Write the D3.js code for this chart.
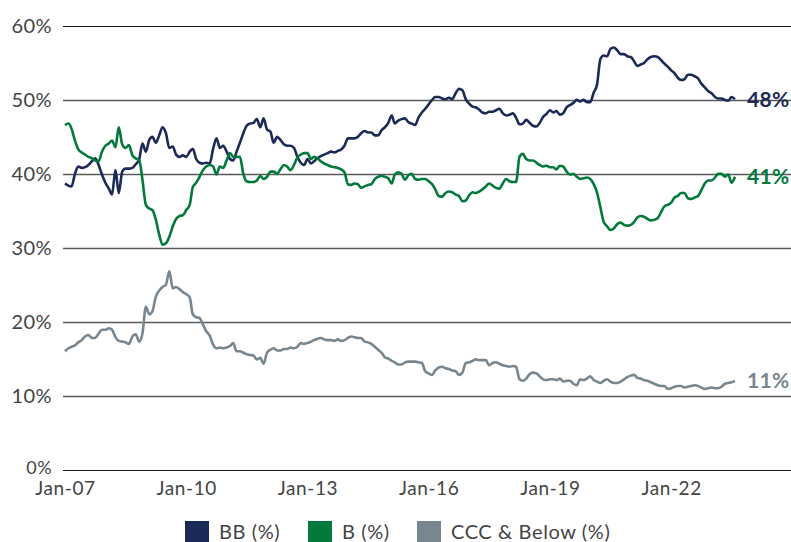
<!DOCTYPE html>
<html>
<head>
<meta charset="utf-8">
<script src="https://cdn.jsdelivr.net/npm/d3@7"></script>
<style>
  body { margin: 0; background: #fff; }
  svg text { font-family: Lato, "Open Sans", sans-serif; }
</style>
</head>
<body>
<div id="app"></div>
<script>
// monthly series, Jan 2007 .. Aug 2023
var startMonth = new Date(2007, 0, 1);

var bb = [
  38.7,38.4,38.3,40.0,41.0,40.8,40.9,41.2,41.7,42.1,
  41.2,39.9,38.8,38.0,37.2,40.5,37.4,40.3,40.7,40.7,
  40.8,41.3,41.9,44.1,43.0,44.6,45.0,44.2,45.2,46.3,
  45.5,43.5,43.7,42.6,42.3,42.5,42.3,43.0,43.4,42.0,
  41.5,41.4,41.5,41.4,43.4,44.8,43.5,43.8,43.0,42.0,
  41.8,43.0,44.2,45.5,46.5,46.8,46.9,47.4,46.3,47.5,
  46.0,45.7,44.2,45.0,44.6,44.0,43.8,43.8,43.5,42.3,
  41.5,41.2,42.0,41.4,41.7,42.1,42.4,42.6,42.8,43.0,
  42.9,43.1,43.3,43.8,44.8,44.8,44.8,45.0,45.5,45.8,
  45.6,45.6,45.2,45.2,45.9,46.3,46.9,47.9,46.8,47.2,
  47.4,47.5,47.0,46.8,46.6,47.6,48.3,48.8,49.4,50.0,
  50.4,50.4,50.2,50.1,50.3,50.1,50.9,51.5,51.3,50.1,
  49.5,49.1,49.0,48.7,48.3,48.2,48.4,48.4,48.6,48.8,
  48.2,47.9,48.0,48.2,47.6,46.7,46.8,47.3,46.9,46.5,
  46.4,46.9,47.7,48.1,48.6,48.3,48.5,48.0,48.2,49.0,
  49.3,49.6,50.0,49.8,50.0,49.7,49.7,51.0,52.0,55.5,
  56.0,55.9,56.9,57.1,56.7,56.2,56.2,55.9,55.8,55.2,
  54.6,54.8,55.0,55.5,55.8,55.9,55.8,55.4,54.9,54.5,
  54.0,53.6,53.0,52.7,52.8,53.4,53.4,53.2,52.9,52.2,
  51.7,51.2,50.9,50.4,50.2,50.2,50.0,49.9,50.4,50.1
];

var b = [
  46.6,46.8,46.1,44.5,43.3,42.9,42.6,42.3,42.1,41.8,
  41.7,43.0,43.8,44.1,44.5,43.6,46.3,44.0,43.5,43.9,
  42.5,42.1,41.9,39.2,35.8,35.3,35.1,33.8,31.8,30.4,
  30.6,31.5,32.9,33.9,34.3,34.4,35.1,35.8,38.2,38.8,
  39.6,40.5,41.0,41.2,41.0,39.9,41.0,40.8,41.8,42.8,
  42.3,42.3,42.3,40.0,39.0,38.9,38.9,39.1,39.7,39.3,
  39.6,40.3,40.3,40.0,40.6,41.2,41.0,40.5,41.2,42.2,
  42.6,42.8,42.8,42.0,42.3,42.1,41.7,41.4,41.2,41.0,
  40.9,40.8,40.6,40.2,38.6,38.5,38.7,38.6,38.1,38.3,
  38.5,38.6,39.3,39.6,39.7,39.6,39.4,38.7,39.9,40.2,
  40.0,39.2,39.8,40.0,39.3,39.2,39.3,39.3,39.0,38.6,
  37.9,37.0,36.9,37.4,37.6,37.5,37.2,37.0,36.3,36.4,
  37.1,37.5,37.4,37.6,37.9,38.3,38.7,38.4,38.1,38.0,
  38.7,39.3,39.0,38.9,38.9,42.3,42.7,42.0,41.8,41.8,
  41.5,41.2,41.0,41.1,40.9,40.9,40.6,41.1,41.0,40.3,
  39.9,40.0,39.6,39.3,39.4,39.5,39.3,38.6,37.5,35.5,
  33.5,32.9,32.4,32.6,33.2,33.4,33.1,33.0,33.1,33.5,
  34.1,34.3,34.2,33.9,33.7,33.8,34.0,34.8,35.6,35.8,
  36.1,36.8,37.0,37.4,37.4,36.7,36.6,36.8,37.0,37.8,
  38.7,39.1,39.1,39.5,40.0,40.0,39.6,39.9,38.8,39.6
];

var ccc = [
  16.0,16.4,16.6,16.8,17.2,17.5,18.0,18.2,17.8,17.8,
  18.4,18.9,18.9,19.1,18.9,17.9,17.4,17.3,17.2,17.0,
  18.0,18.3,17.3,18.4,22.0,21.0,21.4,23.4,24.2,24.7,
  25.0,26.8,24.5,24.7,24.4,24.0,23.7,23.3,21.0,20.6,
  20.5,19.6,18.7,18.1,16.9,16.4,16.5,16.4,16.5,16.7,
  17.1,16.0,16.0,15.8,15.6,15.5,15.4,14.9,15.1,14.3,
  15.8,16.2,16.4,16.1,16.1,16.3,16.3,16.5,16.4,16.6,
  17.1,17.0,17.1,17.3,17.5,17.7,17.8,17.6,17.5,17.5,
  17.4,17.6,17.4,17.5,17.8,18.0,17.9,17.8,17.8,17.3,
  17.2,17.0,16.6,16.2,15.8,15.2,15.0,14.7,14.5,14.2,
  14.2,14.5,14.6,14.6,14.6,14.5,14.4,13.3,13.0,12.8,
  13.4,13.8,13.9,13.7,13.6,13.4,13.3,12.8,13.1,14.4,
  14.5,14.7,14.9,14.8,14.8,14.8,14.1,14.4,14.5,14.3,
  14.1,14.0,13.9,14.0,13.9,12.2,12.0,12.3,12.9,13.1,
  13.0,12.6,12.2,12.1,12.2,12.2,12.1,12.3,11.9,12.0,
  12.0,11.6,11.4,12.2,12.1,12.3,12.6,12.1,11.9,11.7,
  12.0,12.2,11.9,11.7,11.7,11.9,12.2,12.5,12.7,12.8,
  12.4,12.3,12.1,12.0,11.8,11.6,11.4,11.3,11.3,10.9,
  11.0,11.2,11.3,11.3,11.1,11.2,11.3,11.4,11.3,11.1,
  10.9,11.0,11.1,11.0,11.0,11.2,11.6,11.7,11.8,12.0
];

var yTicks = [0, 10, 20, 30, 40, 50, 60];
var xTickYears = [2007, 2010, 2013, 2016, 2019, 2022];
var seriesNames = ["BB (%)", "B (%)", "CCC & Below (%)"];
var endLabels = ["48%", "41%", "11%"];
var colors = ["#1b2a56", "#037a3c", "#77868f"];

var width = 791,
    height = 542;

var svg = d3.select("#app").append("svg")
    .attr("width", width)
    .attr("height", height);

var months = bb.map(function(d, i) { return d3.timeMonth.offset(startMonth, i); });

var x = d3.scaleTime()
    .domain([months[0], months[months.length - 1]])
    .range([65, 735]);

var y = d3.scaleLinear()
    .domain([0, 60])
    .range([469.5, 26]);

// gridlines
svg.selectAll(".grid")
    .data(yTicks)
    .enter().append("line")
    .attr("x1", 63)
    .attr("x2", width)
    .attr("y1", function(d) { return Math.round(y(d)) + 0.5; })
    .attr("y2", function(d) { return Math.round(y(d)) + 0.5; })
    .attr("stroke", function(d) { return (d == 0 || d == 60) ? "#1a1a1a" : "#5a5a5a"; })
    .attr("stroke-width", function(d) { return (d == 0 || d == 60) ? 1.2 : 1.6; });

// y labels
svg.selectAll(".ylab")
    .data(yTicks)
    .enter().append("text")
    .attr("x", 52)
    .attr("y", function(d) { return d == 0 ? y(d) - 2 : y(d); })
    .attr("dy", "0.35em")
    .attr("text-anchor", "end")
    .attr("fill", "#444")
    .style("font-size", function(d) { return d == 0 ? "18px" : "20px"; })
    .style("letter-spacing", "0.4px")
    .text(function(d) { return d + "%"; });

// x axis labels
var xAxis = d3.axisBottom(x)
    .tickValues(xTickYears.map(function(yr) { return new Date(yr, 0, 1); }))
    .tickFormat(d3.timeFormat("%b-%y"))
    .tickSize(0)
    .tickPadding(0);

var gx = svg.append("g")
    .attr("transform", "translate(0,481)")
    .call(xAxis);
gx.select(".domain").remove();
gx.selectAll("text")
    .attr("dy", "0.71em")
    .attr("fill", "#444")
    .style("font-family", "Lato, sans-serif")
    .style("font-size", "19px")
    .style("letter-spacing", "0.6px");

// lines
var line = d3.line()
    .x(function(d, i) { return x(months[i]); })
    .y(function(d) { return y(d); })
    .curve(d3.curveMonotoneX);

var allSeries = [bb, b, ccc];

svg.selectAll(".series")
    .data(allSeries)
    .enter().append("path")
    .attr("d", line)
    .attr("fill", "none")
    .attr("stroke", function(d, i) { return colors[i]; })
    .attr("stroke-width", 2.6)
    .attr("stroke-linejoin", "round");

// end labels
svg.selectAll(".endlab")
    .data(allSeries)
    .enter().append("text")
    .attr("x", 747)
    .attr("y", function(d) { return y(d[d.length - 1]); })
    .attr("dy", "0.36em")
    .attr("fill", function(d, i) { return colors[i]; })
    .style("font-size", "21px")
    .style("font-weight", "bold")
    .style("letter-spacing", "0.3px")
    .text(function(d, i) { return endLabels[i]; });

// legend
var legendX = [185, 308, 417];
var legend = svg.selectAll(".legend")
    .data(seriesNames)
    .enter().append("g")
    .attr("transform", function(d, i) { return "translate(" + legendX[i] + ",521)"; });

legend.append("rect")
    .attr("width", 24)
    .attr("height", 21)
    .attr("fill", function(d, i) { return colors[i]; });

legend.append("text")
    .attr("x", 34)
    .attr("y", 18)
    .attr("fill", "#444")
    .style("font-size", "20px")
    .style("letter-spacing", "0.6px")
    .text(function(d) { return d; });
</script>
</body>
</html>
